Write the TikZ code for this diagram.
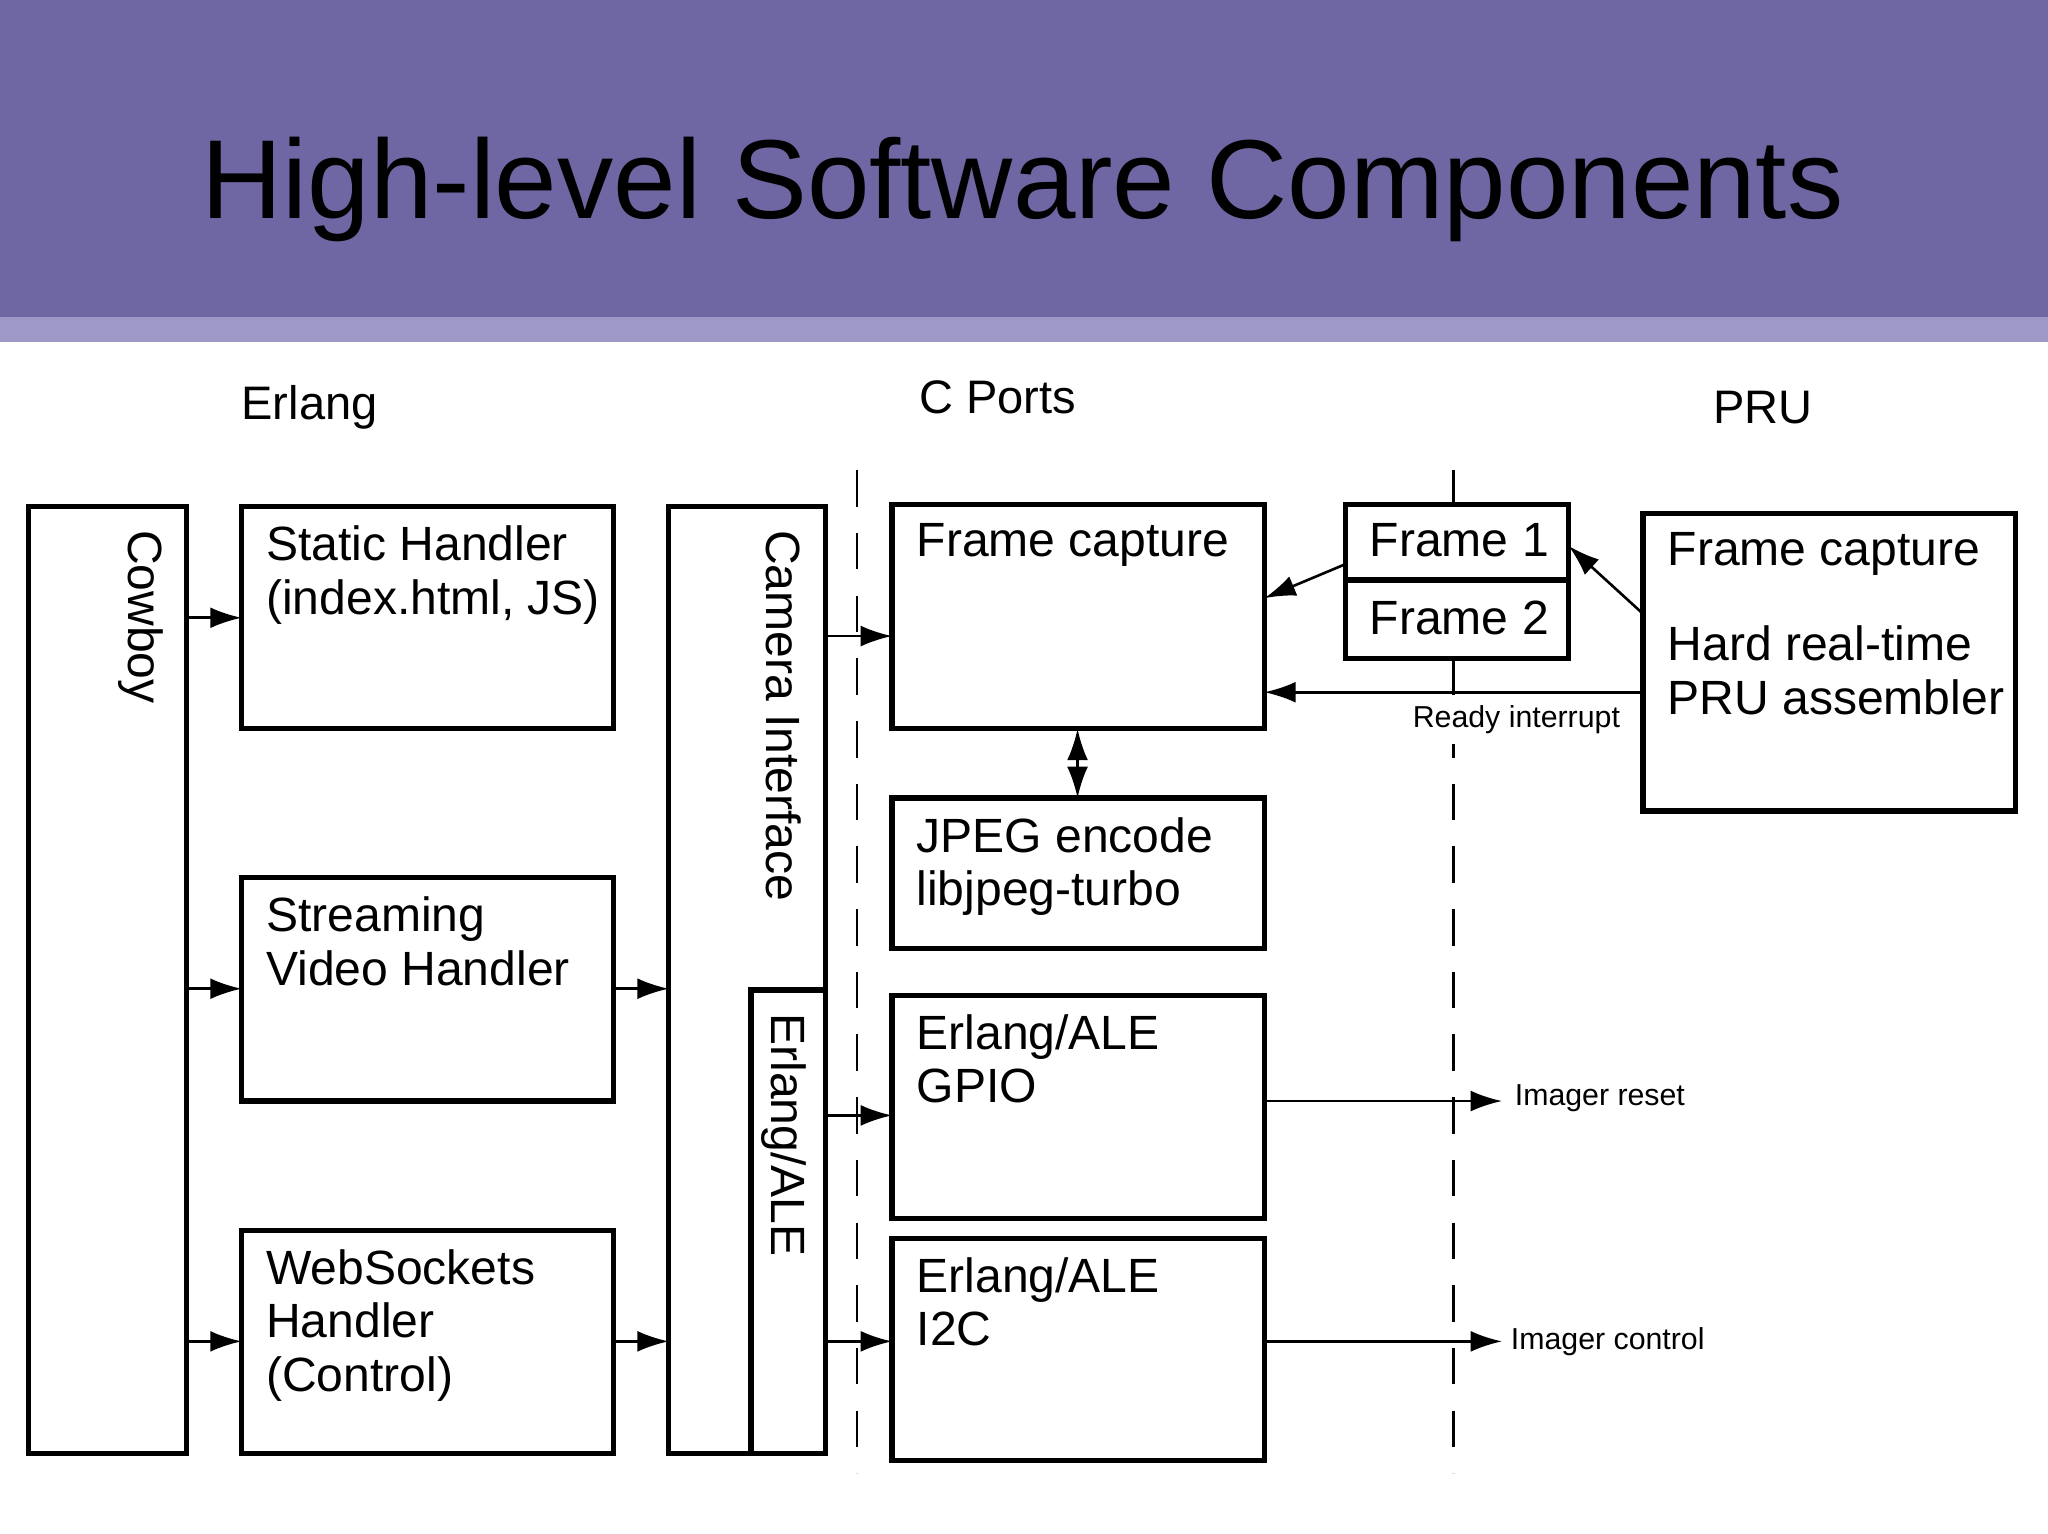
\documentclass[tikz,border=0pt]{standalone}
\usepackage{fontspec}
\setmainfont{Liberation Sans}
\usetikzlibrary{arrows.meta}
\definecolor{band}{HTML}{6E67A3}
\definecolor{strip}{HTML}{9E98C6}
\begin{document}
\begin{tikzpicture}[x=0.25pt,y=-0.25pt,
  blk/.style={draw,line width=1pt},
  txt/.style={font=\fontsize{9.2pt}{10.2pt}\selectfont,align=left,anchor=north west,inner sep=0pt},
  rtxt/.style={font=\fontsize{9.2pt}{10.2pt}\selectfont,rotate=-90,anchor=west,inner sep=0pt},
  arr/.style={-{Latex[length=6pt,width=4pt]},line width=0.5pt},
  dashline/.style={dashed,dash pattern=on 7pt off 5pt,line width=0.5pt},
  small/.style={font=\fontsize{5.8pt}{7pt}\selectfont,inner sep=1pt}]
\useasboundingbox (0,0) rectangle (1568,1174);
\fill[band] (0,0) rectangle (1568,243);
\fill[strip] (0,243) rectangle (1568,262);
\node[font=\fontsize{21.5pt}{24pt}\selectfont] (title) at (783,145) {High-level Software Components};
\node[font=\fontsize{9pt}{11pt}\selectfont] (l1) at (237,312) {Erlang};
\node[font=\fontsize{9pt}{11pt}\selectfont] (l2) at (764,304) {C Ports};
\node[font=\fontsize{9pt}{11pt}\selectfont] (l3) at (1350,312) {PRU};
% dashed separators
\draw[dashline] (656,360) coordinate (d1a) -- (656,1128) coordinate (d1b);
\draw[dashline] (1113,360) coordinate (d2a) -- (1113,1128) coordinate (d2b);
% boxes
\draw[blk,fill=white] (22,388) rectangle (143,1113);
\node[rtxt] (cowboy) at (108,405) {Cowboy};
\draw[blk] (185,388) rectangle (470,558);
\node[txt] (static) at (203,402) {Static Handler\\(index.html, JS)};
\draw[blk] (185,672) rectangle (470,843);
\node[txt] (stream) at (203,686) {Streaming\\Video Handler};
\draw[blk] (185,942) rectangle (470,1113);
\node[txt] (ws) at (203,956) {WebSockets\\Handler\\(Control)};
\draw[blk] (512,388) rectangle (632,1113);
\node[rtxt] (cam) at (600,405) {Camera Interface};
\draw[blk] (575,758) rectangle (632,1113);
\node[rtxt] (ale) at (600,775) {Erlang/ALE};
\draw[blk] (683,386) rectangle (968,558);
\node[txt] (fc) at (701,400) {Frame capture};
\draw[blk] (683,611) rectangle (968,726);
\node[txt] (jpeg) at (701,625) {JPEG encode\\libjpeg-turbo};
\draw[blk] (683,762) rectangle (968,933);
\node[txt] (gpio) at (701,776) {Erlang/ALE\\GPIO};
\draw[blk] (683,948) rectangle (968,1118);
\node[txt] (i2c) at (701,962) {Erlang/ALE\\I2C};
\draw[blk,fill=white] (1030,386) rectangle (1201,444);
\node[txt] (f1) at (1048,400) {Frame 1};
\draw[blk,fill=white] (1030,444) rectangle (1201,504);
\node[txt] (f2) at (1048,459) {Frame 2};
\draw[blk,fill=white] (1258,393) rectangle (1543,621);
\node[txt] (pru) at (1276,407) {Frame capture\\[8pt]Hard real-time\\PRU assembler};
% arrows
\draw[arr] (143,473) -- (185,473);
\draw[arr] (143,757) -- (185,757);
\draw[arr] (143,1027) -- (185,1027);
\draw[arr] (470,757) -- (512,757);
\draw[arr] (470,1027) -- (512,1027);
\draw[arr] (632,487) -- (683,487);
\draw[arr] (632,854) -- (683,854);
\draw[arr] (632,1027) -- (683,1027);
\draw[arr] (1030,432) -- (968,458);
\draw[arr] (1258,470) -- (1201,418);
\draw[arr] (1258,530) -- (968,530);
\node[small,fill=white,inner sep=2pt] (ready) at (1161,551) {Ready interrupt};
\draw[{Latex[length=6pt,width=4pt]}-{Latex[length=6pt,width=4pt]},line width=0.5pt] (825,558) -- (825,611);
\draw[arr] (968,843) -- (1150,843);
\node[small,anchor=west] (reset) at (1155,841) {Imager reset};
\draw[arr] (968,1027) -- (1150,1027);
\node[small,anchor=west] (ctrl) at (1152,1027) {Imager control};
\end{tikzpicture}
\end{document}
